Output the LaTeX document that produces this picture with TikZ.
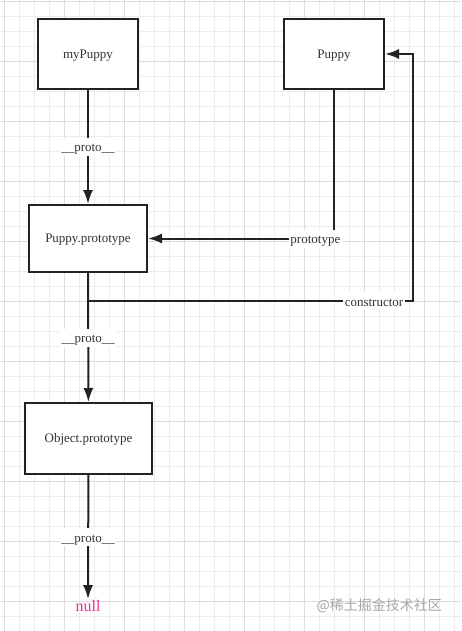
\documentclass[tikz,border=0pt]{standalone}
\usepackage{fontspec}
\setmainfont{Liberation Serif}
\newfontfamily\cjkfont{Noto Sans CJK SC}
\usetikzlibrary{arrows.meta,positioning}
\definecolor{boxline}{HTML}{222222}
\definecolor{textgray}{HTML}{333333}
\definecolor{nullpink}{HTML}{E8358C}
\definecolor{gridminor}{HTML}{ECECEC}
\definecolor{gridmajor}{HTML}{DCDCDC}
\definecolor{markgray}{HTML}{A8A8A8}
\tikzset{
obj/.style={
  draw=boxline,
  fill=white,
  line width=2pt,
  minimum width=100pt,
  minimum height=70pt,
  text height=8.6pt,
  text depth=0pt,
  text=textgray,
  font=\fontsize{13}{15}\selectfont
  },
lbl/.style={
  fill=white,
  text=textgray,
  inner sep=1.5pt,
  text height=12.5pt,
  text depth=2.5pt,
  font=\fontsize{13}{15}\selectfont
  },
link/.style={draw=boxline, line width=2pt},
minorline/.style={draw=gridminor, line width=0.8pt},
majorline/.style={draw=gridmajor, line width=0.8pt}
}

\begin{document}
\begin{tikzpicture}[x=1pt,y=-1pt,>={Latex[length=14pt,width=10pt]}]
\useasboundingbox[fill=white] (0,0) rectangle (461,631);

% background grid
\foreach \i in {0,...,30}
  \draw[minorline] ({4.3+15*\i},0) -- ({4.3+15*\i},631);
\foreach \j in {0,...,42}
  \draw[minorline] (0,{1+15*\j}) -- (461,{1+15*\j});
\foreach \i in {0,...,7}
  \draw[majorline] ({4.3+60*\i},0) -- ({4.3+60*\i},631);
\foreach \j in {0,...,10}
  \draw[majorline] (0,{1+60*\j}) -- (461,{1+60*\j});

% objects
\node[obj] (mypuppy) at (88,54) {myPuppy};
\node[obj] (puppy) at (334,54) {Puppy};
\node[obj,minimum width=118pt,minimum height=67pt] (puppyproto) at (88,238.5) {Puppy.prototype};
\node[obj,minimum width=127pt,minimum height=71pt] (objproto) at (88.5,438.5) {Object.prototype};
\node[text=nullpink,inner sep=1pt,font=\fontsize{16}{18}\selectfont] (null) at (88,606) {null};

\coordinate (turn) at (413,301);

% links
\draw[link,->] (mypuppy) -- node[lbl] {\_\_proto\_\_} (puppyproto);
\draw[link,->] (puppy) |- node[lbl,pos=0.55] {prototype} (puppyproto);
\draw[link,->] (puppyproto) |- node[lbl,pos=0.94] {constructor} (turn) |- (puppy);
\draw[link,->] (puppyproto) -- node[lbl] {\_\_proto\_\_} (objproto);
\draw[link,->] (objproto) -- node[lbl] {\_\_proto\_\_} (null);

\node[text=markgray,anchor=west,font=\cjkfont\fontsize{14}{16}\selectfont] (mark) at (313,606) {@稀土掘金技术社区};
\end{tikzpicture}
\end{document}
